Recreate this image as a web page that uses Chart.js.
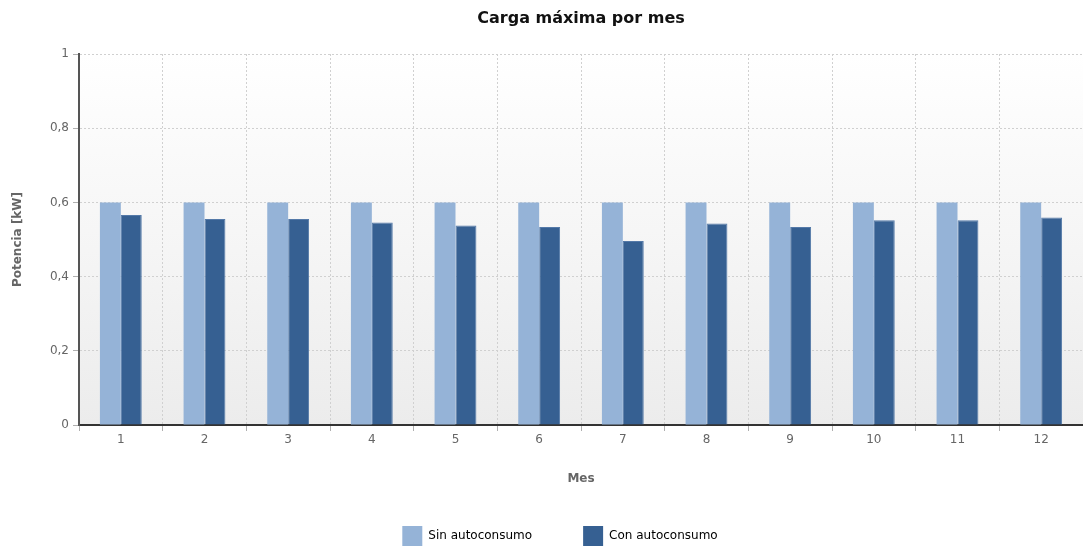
<!DOCTYPE html>
<html lang="es">
<head>
<meta charset="utf-8">
<title>Carga máxima por mes</title>
<script src="https://cdn.jsdelivr.net/npm/chart.js@4/dist/chart.umd.min.js"></script>
<style>
    html, body { margin: 0; padding: 0; background: #ffffff; }
    #contenedor { width: 1083px; height: 546px; }
</style>
</head>
<body>
<div id="contenedor">
    <canvas id="chartCarga" width="1083" height="546"></canvas>
</div>
<script>
// Datos de carga máxima mensual (kW)
const meses = ['1', '2', '3', '4', '5', '6', '7', '8', '9', '10', '11', '12'];
const sinAutoconsumo = [0.6, 0.6, 0.6, 0.6, 0.6, 0.6, 0.6, 0.6, 0.6, 0.6, 0.6, 0.6];
const conAutoconsumo = [0.566, 0.555, 0.555, 0.546, 0.538, 0.534, 0.496, 0.543, 0.534, 0.552, 0.552, 0.559];
const etiquetasY = ['0', '0,2', '0,4', '0,6', '0,8', '1'];

const fuente = 'DejaVu Sans, Verdana, sans-serif';

// fondo degradado del area de trazado
const fondoPlot = {
    id: 'fondoPlot',
    beforeDraw(chart) {
        const { ctx, chartArea } = chart;
        const grad = ctx.createLinearGradient(0, chartArea.top, 0, chartArea.bottom);
        grad.addColorStop(0, '#ffffff');
        grad.addColorStop(1, '#ececec');
        ctx.save();
        ctx.fillStyle = grad;
        ctx.fillRect(chartArea.left, chartArea.top, chartArea.right - chartArea.left, chartArea.bottom - chartArea.top);
        ctx.restore();
    }
};

// titulo centrado sobre el plot y leyenda pegada abajo
const colocarCajas = {
    id: 'colocarCajas',
    afterLayout(chart) {
        const area = chart.chartArea;
        chart.titleBlock.left = area.left;
        chart.titleBlock.right = area.right;
        const leyenda = chart.legend;
        const lab = leyenda.options.labels;
        leyenda.left = 37;
        leyenda.top = chart.height - lab.boxHeight - lab.padding;
    }
};

const ctx = document.getElementById('chartCarga').getContext('2d');

new Chart(ctx, {
    type: 'bar',
    data: {
        labels: meses,
        datasets: [
            {
                label: 'Sin autoconsumo',
                data: sinAutoconsumo,
                backgroundColor: '#95b3d7',
                borderWidth: 0
            },
            {
                label: 'Con autoconsumo',
                data: conAutoconsumo,
                backgroundColor: '#366092',
                borderColor: '#5479a8',
                borderWidth: 1
            }
        ]
    },
    options: {
        responsive: false,
        animation: false,
        devicePixelRatio: 1,
        layout: { padding: 0 },
        datasets: {
            bar: { categoryPercentage: 0.5, barPercentage: 1 }
        },
        scales: {
            x: {
                afterFit: (scale) => { scale.height = 91; },
                grid: {
                    color: '#d0d0d0',
                    lineWidth: 1,
                    tickColor: '#b0b0b0',
                    tickLength: 6,
                    tickBorderDash: []
                },
                border: { display: true, color: '#333333', width: 2, dash: [2, 2] },
                ticks: {
                    color: '#666666',
                    font: { family: fuente, size: 12 },
                    padding: 2
                },
                title: {
                    display: true,
                    text: 'Mes',
                    color: '#666666',
                    font: { family: fuente, size: 12, weight: 'bold' },
                    padding: { top: 0, bottom: 30 }
                }
            },
            y: {
                min: 0,
                max: 1,
                afterFit: (scale) => { scale.width = 79; },
                grid: {
                    color: '#d0d0d0',
                    lineWidth: 1,
                    tickColor: '#b0b0b0',
                    tickLength: 6,
                    tickBorderDash: []
                },
                border: { display: true, color: '#555555', width: 2, dash: [2, 2] },
                ticks: {
                    stepSize: 0.2,
                    color: '#666666',
                    font: { family: fuente, size: 12 },
                    padding: 4,
                    callback: (valor, i) => etiquetasY[i]
                },
                title: {
                    display: true,
                    text: 'Potencia [kW]',
                    color: '#666666',
                    font: { family: fuente, size: 12, weight: 'bold' },
                    padding: { top: 11, bottom: 0 }
                }
            }
        },
        plugins: {
            title: {
                display: true,
                text: 'Carga máxima por mes',
                color: '#111111',
                font: { family: fuente, size: 16, weight: 'bold' },
                padding: { top: 9, bottom: 25.8 }
            },
            legend: {
                position: 'bottom',
                maxHeight: 30,
                labels: {
                    boxWidth: 20,
                    boxHeight: 20,
                    padding: 51,
                    color: '#333333',
                    font: { family: fuente, size: 12 },
                    // cuadros de color sin borde
                    generateLabels: (chart) => chart.data.datasets.map((ds, i) => ({
                        text: ds.label,
                        fillStyle: ds.backgroundColor,
                        strokeStyle: ds.backgroundColor,
                        lineWidth: 0,
                        hidden: false,
                        datasetIndex: i
                    }))
                }
            },
            tooltip: { enabled: false }
        }
    },
    plugins: [fondoPlot, colocarCajas]
});
</script>
</body>
</html>
